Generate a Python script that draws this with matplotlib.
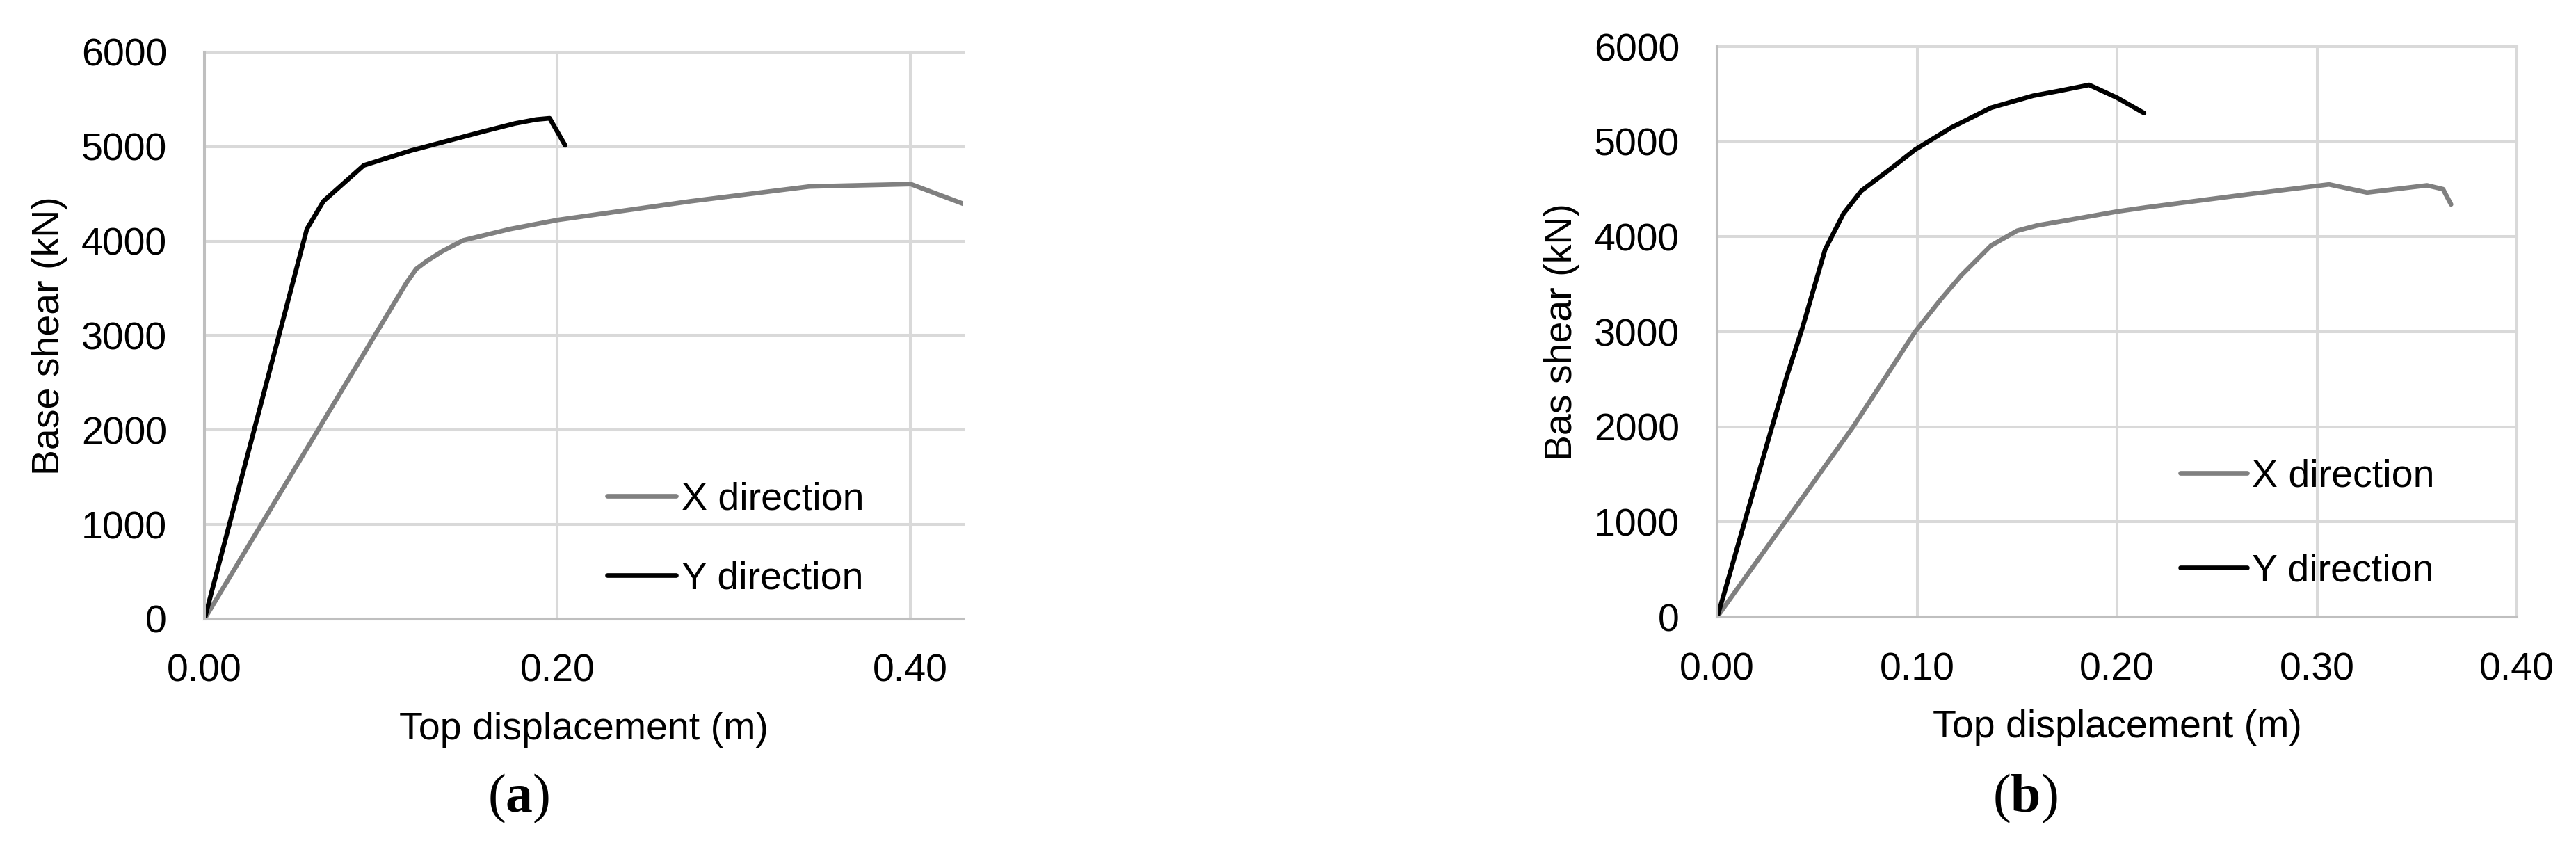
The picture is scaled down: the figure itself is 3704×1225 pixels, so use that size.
# Pushover curves (base shear vs top displacement) for two buildings, panels (a) and (b)

import matplotlib
matplotlib.use('Agg')
import matplotlib.pyplot as plt

plt.rcParams['font.family'] = ['Liberation Sans', 'DejaVu Sans']
plt.rcParams['mathtext.fontset'] = 'custom'
plt.rcParams['mathtext.rm'] = 'Liberation Serif'
plt.rcParams['mathtext.bf'] = 'Liberation Serif:bold'

# ---- data ----
# panel (a)
a_x_disp = [0, 0.1144, 0.120, 0.126, 0.135, 0.1466, 0.173, 0.2003, 0.2757, 0.343, 0.4003, 0.43]
a_x_shear = [0, 3557, 3705, 3789, 3895, 4008, 4127, 4224, 4422, 4578, 4603, 4395]
a_y_disp = [0, 0.058, 0.0674, 0.0903, 0.117, 0.141, 0.158, 0.176, 0.188, 0.1956, 0.2044]
a_y_shear = [0, 4127, 4422, 4802, 4958, 5076, 5160, 5245, 5287, 5300, 5013]

# panel (b)
b_x_disp = [0, 0.035, 0.068, 0.099, 0.1118, 0.122, 0.137, 0.150, 0.160, 0.183, 0.200, 0.214,
            0.265, 0.306, 0.325, 0.355, 0.363, 0.367]
b_x_shear = [0, 1029, 2000, 3000, 3340, 3592, 3908, 4063, 4118, 4202, 4265, 4307,
             4445, 4550, 4465, 4540, 4500, 4340]
b_y_disp = [0, 0.003, 0.017, 0.0274, 0.035, 0.0427, 0.054, 0.0632, 0.0721, 0.0862, 0.099,
            0.117, 0.137, 0.158, 0.171, 0.186, 0.190, 0.200, 0.2135]
b_y_shear = [0, 210, 1240, 1996, 2542, 3046, 3866, 4244, 4483, 4706, 4916,
             5147, 5357, 5483, 5534, 5597, 5559, 5462, 5300]

series_labels = ['X direction', 'Y direction']
y_ticks = [0, 1000, 2000, 3000, 4000, 5000, 6000]
a_x_ticks = [0.0, 0.2, 0.4]
b_x_ticks = [0.0, 0.1, 0.2, 0.3, 0.4]

FS = 40
GRID = '#d9d9d9'
SPINE = '#bfbfbf'
LW = 4.8

fig = plt.figure(figsize=(37.04, 12.25), dpi=100)


def style_axes(ax, xticks, xmax, ylabel):
    ax.set_xlim(0, xmax)
    ax.set_ylim(0, 6000)
    ax.set_xticks(xticks)
    ax.set_xticklabels(['%.2f' % t for t in xticks])
    ax.set_yticks(y_ticks)
    ax.tick_params(length=0, labelsize=FS)
    ax.tick_params(axis='y', pad=39)
    ax.tick_params(axis='x', pad=36)
    for s in ['top', 'right']:
        ax.spines[s].set_visible(False)
    for s in ['left', 'bottom']:
        ax.spines[s].set_color(SPINE)
        ax.spines[s].set_linewidth(2.9)
    ax.set_axisbelow(True)
    ax.grid(True, color=GRID, linewidth=2.9)
    for gl in ax.get_xgridlines() + ax.get_ygridlines():
        gl.set_clip_on(False)
    ax.set_xlabel('Top displacement (m)', fontsize=FS, labelpad=22)
    ax.set_ylabel(ylabel, fontsize=FS, labelpad=14)


def plot_pair(ax, xd, xs, yd, ys):
    ax.plot(xd, xs, color='#808080', linewidth=LW, solid_capstyle='round',
            solid_joinstyle='round', label=series_labels[0])
    ax.plot(yd, ys, color='black', linewidth=LW, solid_capstyle='round',
            solid_joinstyle='round', label=series_labels[1])


# panel (a)
ax1 = fig.add_axes([0.0794, 0.2735, 0.2945, 0.6653])
plot_pair(ax1, a_x_disp, a_x_shear, a_y_disp, a_y_shear)
style_axes(ax1, a_x_ticks, 0.43, 'Base shear (kN)')
ax1.legend(loc='center left', bbox_to_anchor=(0.531, 0.1405), frameon=False, fontsize=FS,
           handlelength=1.78, handletextpad=0.14, labelspacing=1.13, borderpad=0, borderaxespad=0)

# panel (b)
ax2 = fig.add_axes([0.6666, 0.2759, 0.3105, 0.6694])
plot_pair(ax2, b_x_disp, b_x_shear, b_y_disp, b_y_shear)
style_axes(ax2, b_x_ticks, 0.40, 'Bas shear (kN)')
ax2.legend(loc='center left', bbox_to_anchor=(0.579, 0.163), frameon=False, fontsize=FS,
           handlelength=1.72, handletextpad=0.14, labelspacing=1.5, borderpad=0, borderaxespad=0)

fig.text(746 / 3704, 1 - 1148 / 1225, r'($\mathbf{a}$)', family='Liberation Serif',
         fontsize=56, ha='center', va='center')
fig.text(2912 / 3704, 1 - 1148 / 1225, r'($\mathbf{b}$)', family='Liberation Serif',
         fontsize=56, ha='center', va='center')

fig.savefig('out.png', dpi=100)
